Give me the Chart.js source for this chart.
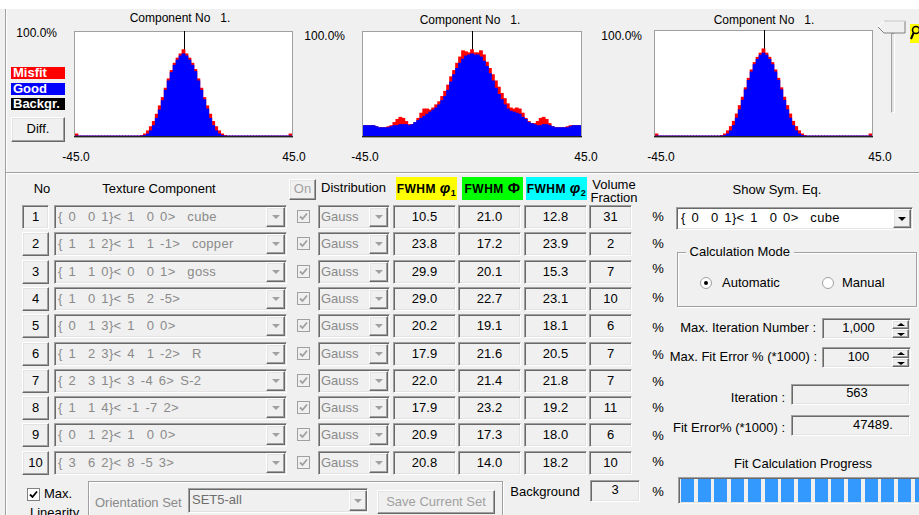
<!DOCTYPE html>
<html>
<head>
<meta charset="utf-8">
<script src="https://cdn.jsdelivr.net/npm/chart.js@4/dist/chart.umd.min.js"></script>
<style>
html,body{margin:0;padding:0;background:#f0f0f0;}
#app{position:relative;width:919px;height:515px;overflow:hidden;background:#f0f0f0;
  font-family:"Liberation Sans",Arial,sans-serif;font-size:12px;color:#000;}
.a{position:absolute;white-space:pre;box-sizing:border-box;}
.t{line-height:16px;height:16px;}
.sk{border:1px solid;border-color:#a0a0a0 #ffffff #ffffff #a0a0a0;
  box-shadow:inset 1px 1px 0 #696969, inset -1px -1px 0 #e3e3e3;background:#f0f0f0;}
.rs{border:1px solid;border-color:#ffffff #696969 #696969 #ffffff;
  box-shadow:inset -1px -1px 0 #a0a0a0, inset 1px 1px 0 #e3e3e3;background:#f0f0f0;}
.et{border:1px solid #a0a0a0;box-shadow:inset 1px 1px 0 #fff, 1px 1px 0 #fff;}
.tri{position:absolute;left:50%;top:50%;width:0;height:0;margin-left:-4px;margin-top:-2px;
  border-left:4px solid transparent;border-right:4px solid transparent;border-top:4px solid #a0a0a0;}
canvas{position:absolute;}
</style>
</head>
<body>
<div id="app"></div>
<script>
// ---- histogram bins: 73 bins spanning -45 .. 45 degrees ----
const binCentres = Array.from({length: 73}, (_, i) => (-45 + (i + 0.5) * 90 / 73).toFixed(2));
const axisMinLabel = '-45.0';
const axisMaxLabel = '45.0';
const axisTopLabel = '100.0%';
const chartTitle = 'Component No   1.';

// ---- left histogram (percent of full scale) ----
const goodA = [0,0,0,0,0,0,0,0,0,0,0,0,0,0,0,0,0,0,0,0,0,0,0,0.5,2,5,10,17,25,34,44,53,61,68,73,77,79,
  77,73,68,62,53,44,35,26,17,10,5,2,0.5,0,0,0,0,0,0,0,0,0,0,0,0,0,0,0,0,0,0,0,0,0,0,0];
const misfitA = [2,0,0,0,0,0,0,0,0,0,0,0,0,0,0,0,0,0,0,0,0,0,0.5,2,5,9,14,21,29,37,46,55,63,70,75,79,83,
  79,75,70,64,55,46,37,29,21,14,9,5,2,0.5,0,0,0,0,0,0,0,0,0,0,0,0,0,0,0,0,0,0,0,0,0,2];

// ---- middle histogram ----
const goodB = [10,10,10,10,9,8,8,8,8,9,10,10,11,11,11,10,11,13,15,17,19,21,23,25,27,30,34,38,44,52,59,65,70,74,77,78,79,
  78,78,76,72,67,60,53,46,40,35,30,26,24,23,22,21,18,16,13,12,11,10,10,11,11,10,9,8,8,8,8,8,9,10,10,10];
const misfitB = [10,10,10,10,9,8,8,8,9,10,13,16,18,17,14,11,11,13,17,22,26,26,25,27,30,33,38,43,49,57,63,70,76,82,81,80,83,
  80,80,82,78,71,65,59,53,47,41,36,31,27,26,27,26,22,17,14,12,12,14,17,18,16,12,9,8,8,8,8,9,10,10,10,10];

// ---- right histogram ----
const goodC = [0,0,0,0,0,0,0,0,0,0,0,0,0,0,0,0,0,0,0,0,0,0,0,0.5,2,5,10,17,25,34,44,53,61,68,73,77,79,
  77,73,68,61,53,44,34,25,17,10,5,2,0.5,0,0,0,0,0,0,0,0,0,0,0,0,0,0,0,0,0,0,0,0,0,0,0];
const misfitC = [2,0,0,0,0,0,0,0,0,0,0,0,0,0,0,0,0,0,0,0,0,0,0.5,2,5,9,14,21,29,37,46,55,63,70,75,79,83,
  79,75,70,63,55,46,37,29,21,14,9,5,2,0.5,0,0,0,0,0,0,0,0,0,0,0,0,0,0,0,0,0,0,0,0,0,2];

// ---- component table ----
const componentNo = [1,2,3,4,5,6,7,8,9,10];
const textureNames = [
  '{ 0  0 1}< 1  0 0>  cube',
  '{ 1  1 2}< 1  1 -1>  copper',
  '{ 1  1 0}< 0  0 1>  goss',
  '{ 1  0 1}< 5  2 -5>',
  '{ 0  1 3}< 1  0 0>',
  '{ 1  2 3}< 4  1 -2>  R',
  '{ 2  3 1}< 3 -4 6> S-2',
  '{ 1  1 4}< -1 -7 2>',
  '{ 0  1 2}< 1  0 0>',
  '{ 3  6 2}< 8 -5 3>'
];
const fwhmPhi1 = ['10.5','23.8','29.9','29.0','20.2','17.9','22.0','17.9','20.9','20.8'];
const fwhmPhi  = ['21.0','17.2','20.1','22.7','19.1','21.6','21.4','23.2','17.3','14.0'];
const fwhmPhi2 = ['12.8','23.9','15.3','23.1','18.1','20.5','21.8','19.2','18.0','18.2'];
const volumeFraction = [31,2,7,10,6,7,7,11,6,10];
const backgroundFraction = 3;
const maxIterations = '1,000';
const maxFitError = '100';
const iterationCount = '563';
const fitErrorValue = '47489.';

// ---------------- widgets ----------------
const H = [];
const esc = s => String(s).replace(/&/g,'&amp;').replace(/</g,'&lt;').replace(/>/g,'&gt;');
function box(x, y, w, h, cls, style = '', inner = '') {
  H.push(`<div class="a ${cls}" style="left:${x}px;top:${y}px;width:${w}px;height:${h}px;${style}">${inner}</div>`);
}
function text(x, y, s, align = 'l', style = '', raw = false) {
  const c = raw ? s : esc(s);
  if (align === 'c') H.push(`<div class="a t" style="left:${x-150}px;top:${y-8}px;width:300px;text-align:center;${style}">${c}</div>`);
  else if (align === 'r') H.push(`<div class="a t" style="left:${x-300}px;top:${y-8}px;width:300px;text-align:right;${style}">${c}</div>`);
  else H.push(`<div class="a t" style="left:${x}px;top:${y-8}px;${style}">${c}</div>`);
}
function arrowBtn(x, y, w, h, col = '#a0a0a0') {
  box(x, y, w, h, 'rs', '', `<div class="tri" style="border-top-color:${col}"></div>`);
}
function checkbox(x, y, enabled) {
  const bg = enabled ? '#ffffff' : '#f0f0f0', st = enabled ? '#000' : '#a0a0a0', br = enabled ? '#808080' : '#a0a0a0';
  H.push(`<svg class="a" style="left:${x}px;top:${y}px" width="13" height="13"><rect x="0.5" y="0.5" width="12" height="12" fill="${bg}" stroke="${br}"/><path d="M3 6.5 L5.5 9 L10 3.5" stroke="${st}" stroke-width="1.8" fill="none"/></svg>`);
}
function radio(cx, cy, on) {
  H.push(`<svg class="a" style="left:${cx-7}px;top:${cy-7}px" width="14" height="14"><circle cx="7" cy="7" r="5.5" fill="#fff" stroke="#a0a0a0"/>${on ? '<circle cx="7" cy="7" r="2" fill="#000"/>' : ''}</svg>`);
}

// window frame
box(0, 0, 919, 9, '', 'background:#fff;');
box(5, 9, 1, 506, '', 'background:#a0a0a0;');
box(6, 9, 1, 506, '', 'background:#fff;');
box(5, 172, 914, 1, '', 'background:#a0a0a0;');
box(6, 173, 913, 1, '', 'background:#fff;');

// histogram captions
const panels = [
  {title: 180, ty: 18, top: [57, 33], min: 76, max: 294},
  {title: 470, ty: 20, top: [345, 36], min: 365, max: 586},
  {title: 764, ty: 20, top: [642, 36], min: 661, max: 880}
];
panels.forEach(p => {
  text(p.title, p.ty, chartTitle, 'c');
  text(p.top[0], p.top[1], axisTopLabel, 'r');
  text(p.min, 157, axisMinLabel, 'c');
  text(p.max, 157, axisMaxLabel, 'c');
});

// histogram legend
const legendItems = [['Misfit', '#ff0000', 67], ['Good', '#0000ff', 83], ['Backgr.', '#000000', 98]];
legendItems.forEach(([s, c, y]) => box(11, y, 54, 12, '', `background:${c};color:#fff;font-weight:bold;font-size:13px;line-height:12px;padding-left:2px;`, esc(s)));
box(11, 117, 54, 25, 'rs', 'text-align:center;line-height:22px;font-size:13px;', 'Diff.');

// zoom slider and magnifier
box(891, 33, 4, 80, '', 'border-left:1px solid #a0a0a0;border-top:1px solid #a0a0a0;border-right:1px solid #fff;border-bottom:1px solid #fff;background:#e3e3e3;');
H.push('<svg class="a" style="left:877px;top:20px" width="30" height="15"><polygon points="1,7 7,1 28,1 28,13 7,13" fill="#f0f0f0" stroke="#808080"/><polyline points="1,7 7,1 28,1" fill="none" stroke="#fff"/></svg>');
H.push('<svg class="a" style="left:910px;top:24px" width="9" height="19"><rect x="0" y="0" width="9" height="19" fill="#ffff00"/><circle cx="6" cy="6" r="3.5" fill="none" stroke="#000" stroke-width="1.6"/><line x1="3.5" y1="9" x2="1" y2="15" stroke="#000" stroke-width="2"/></svg>');

// table headings
text(42, 189, 'No', 'c', 'font-size:13px;');
text(159, 189, 'Texture Component', 'c', 'font-size:13px;');
box(289, 179, 27, 21, 'rs', 'color:#a0a0a0;text-align:center;line-height:18px;font-size:13px;', 'On');
text(321, 188, 'Distribution', 'l', 'font-size:13px;');
const fwhmHeads = [
  [396, '#ffff00', 'FWHM <span style="font-size:15px;font-style:italic">φ</span><sub style="font-size:9px">1</sub>'],
  [462, '#00ff00', 'FWHM <span style="font-size:15px">Φ</span>'],
  [526, '#00ffff', 'FWHM <span style="font-size:15px;font-style:italic">φ</span><sub style="font-size:9px">2</sub>']
];
fwhmHeads.forEach(([x, c, h]) => box(x, 177, 61, 23, '', `background:${c};font-weight:bold;font-size:12px;text-align:center;line-height:22px;letter-spacing:0.5px;`, h));
box(584, 178, 60, 26, '', 'font-size:13px;line-height:13px;text-align:center;', 'Volume\nFraction');

// table rows
const pctY = [217, 244, 269, 298, 328, 355, 382, 408, 436, 462];
componentNo.forEach((n, i) => {
  const y = Math.round(217 + 27.3 * i), t = y - 12;
  box(22, t, 27, 24, i === 0 ? 'sk' : 'rs', 'text-align:center;line-height:22px;font-size:13px;', String(n));
  box(54, t, 233, 24, 'sk');
  text(58, y, textureNames[i], 'l', 'color:#8a8a8a;font-size:13px;word-spacing:2px;letter-spacing:0.3px;');
  arrowBtn(266, t + 2, 19, 20);
  checkbox(297, y - 7, false);
  box(318, t, 72, 24, 'sk');
  text(321, y, 'Gauss', 'l', 'color:#8a8a8a;font-size:13px;');
  arrowBtn(369, t + 2, 19, 20);
  box(393, t, 63, 24, 'sk', 'text-align:center;line-height:22px;font-size:13px;', fwhmPhi1[i]);
  box(458, t, 63, 24, 'sk', 'text-align:center;line-height:22px;font-size:13px;', fwhmPhi[i]);
  box(524, t, 63, 24, 'sk', 'text-align:center;line-height:22px;font-size:13px;', fwhmPhi2[i]);
  box(589, t, 43, 24, 'sk', 'text-align:center;line-height:22px;font-size:13px;', String(volumeFraction[i]));
  text(658, pctY[i], '%', 'c', 'font-size:13px;');
});

// background row and bottom controls
text(545, 492, 'Background', 'c', 'font-size:13px;');
box(590, 480, 50, 22, 'sk', 'text-align:center;line-height:18px;font-size:13px;', String(backgroundFraction));
text(658, 492, '%', 'c', 'font-size:13px;');
checkbox(27, 488, true);
text(44, 494, 'Max.', 'l', 'font-size:13px;');
box(30, 505, 60, 10, '', 'font-size:13px;line-height:15px;overflow:hidden;', 'Linearity');
box(88, 481, 415, 45, 'et');
text(95, 503, 'Orientation Set', 'l', 'color:#8a8a8a;font-size:13px;');
box(188, 488, 180, 25, 'sk');
text(192, 500, 'SET5-all', 'l', 'color:#6d6d6d;font-size:13px;');
arrowBtn(349, 490, 18, 21);
box(377, 490, 118, 24, 'rs', 'color:#a0a0a0;text-align:center;line-height:21px;font-size:13px;', 'Save Current Set');

// right-hand controls
text(777, 190, 'Show Sym. Eq.', 'c', 'font-size:13px;');
box(676, 207, 237, 23, 'sk', 'background:#fff;');
text(681, 218, textureNames[0], 'l', 'font-size:13px;word-spacing:2px;letter-spacing:0.3px;');
arrowBtn(893, 209, 18, 19, '#000');
box(677, 252, 240, 55, 'et');
text(686, 252, ' Calculation Mode ', 'l', 'background:#f0f0f0;font-size:13px;');
radio(706, 283, true);
text(722, 283, 'Automatic', 'l', 'font-size:13px;');
radio(828, 283, false);
text(842, 283, 'Manual', 'l', 'font-size:13px;');
text(816, 328, 'Max. Iteration Number :', 'r', 'font-size:13px;');
box(822, 318, 89, 21, 'sk', 'text-align:center;line-height:17px;font-size:13px;padding-right:16px;', maxIterations);
box(892, 320, 17, 9, 'rs', '', '<div class="tri" style="border-top:0;border-bottom:3px solid #000;margin-top:-2px"></div>');
box(892, 329, 17, 9, 'rs', '', '<div class="tri" style="border-top:3px solid #000;margin-top:-1px"></div>');
text(817, 357, 'Max. Fit Error % (*1000) :', 'r', 'font-size:13px;');
box(822, 347, 89, 21, 'sk', 'text-align:center;line-height:17px;font-size:13px;padding-right:16px;', maxFitError);
box(892, 349, 17, 9, 'rs', '', '<div class="tri" style="border-top:0;border-bottom:3px solid #000;margin-top:-2px"></div>');
box(892, 358, 17, 9, 'rs', '', '<div class="tri" style="border-top:3px solid #000;margin-top:-1px"></div>');
text(785, 398, 'Iteration :', 'r', 'font-size:13px;');
box(791, 384, 119, 21, 'sk');
text(857, 393, iterationCount, 'c', 'font-size:13px;');
text(785, 428, 'Fit Error% (*1000) :', 'r', 'font-size:13px;');
box(791, 415, 119, 21, 'sk');
text(853, 425, fitErrorValue, 'l', 'font-size:13px;');
text(803, 464, 'Fit Calculation Progress', 'c', 'font-size:13px;');
box(678, 477, 250, 27, 'sk');
for (let s = 0; s < 15; s++) box(Math.round(681 + s * 16.7), 479, 13, 23, '', 'background:#3399ff;');

// histogram canvases
H.push('<canvas id="histA" width="219" height="107" style="left:74px;top:31px"></canvas>');
H.push('<canvas id="histB" width="220" height="107" style="left:362px;top:31px"></canvas>');
H.push('<canvas id="histC" width="219" height="108" style="left:654px;top:30px"></canvas>');
document.getElementById('app').innerHTML = H.join('');

// white plot background, frame, centre marker and base line
const plotFrame = {
  id: 'plotFrame',
  beforeDraw(chart) {
    const {ctx, width, height} = chart;
    ctx.save();
    ctx.fillStyle = '#ffffff';
    ctx.fillRect(0, 0, width, height);
    ctx.strokeStyle = '#a0a0a0';
    ctx.lineWidth = 1;
    ctx.strokeRect(0.5, 0.5, width - 1, height - 1);
    ctx.restore();
  },
  beforeDatasetsDraw(chart) {
    const {ctx, chartArea, scales} = chart;
    const cx = Math.round(scales.x.getPixelForValue(36)) + 0.5;
    ctx.save();
    ctx.strokeStyle = '#000';
    ctx.lineWidth = 1;
    ctx.beginPath();
    ctx.moveTo(cx, chartArea.top - 1);
    ctx.lineTo(cx, chartArea.bottom);
    ctx.stroke();
    ctx.restore();
  },
  afterDatasetsDraw(chart) {
    const {ctx, chartArea, width} = chart;
    ctx.save();
    ctx.fillStyle = '#202020';
    ctx.fillRect(0, chartArea.bottom, width, 1);
    ctx.restore();
  }
};

function histogram(id, good, misfit) {
  return new Chart(document.getElementById(id), {
    type: 'bar',
    data: {
      labels: binCentres,
      datasets: [
        {label: 'Good', data: good, backgroundColor: '#0000ff', order: 0},
        {label: 'Misfit', data: misfit, backgroundColor: '#ff0000', order: 1}
      ]
    },
    options: {
      responsive: false,
      animation: false,
      devicePixelRatio: 1,
      layout: {padding: {left: 1, right: 1, top: 1, bottom: 2}},
      datasets: {bar: {grouped: false, barPercentage: 1, categoryPercentage: 1, borderWidth: 0, inflateAmount: 0.4}},
      scales: {
        x: {display: false},
        y: {display: false, min: 0, max: 100}
      },
      plugins: {legend: {display: false}, tooltip: {enabled: false}, title: {display: false}}
    },
    plugins: [plotFrame]
  });
}

histogram('histA', goodA, misfitA);
histogram('histB', goodB, misfitB);
histogram('histC', goodC, misfitC);
</script>
</body>
</html>
